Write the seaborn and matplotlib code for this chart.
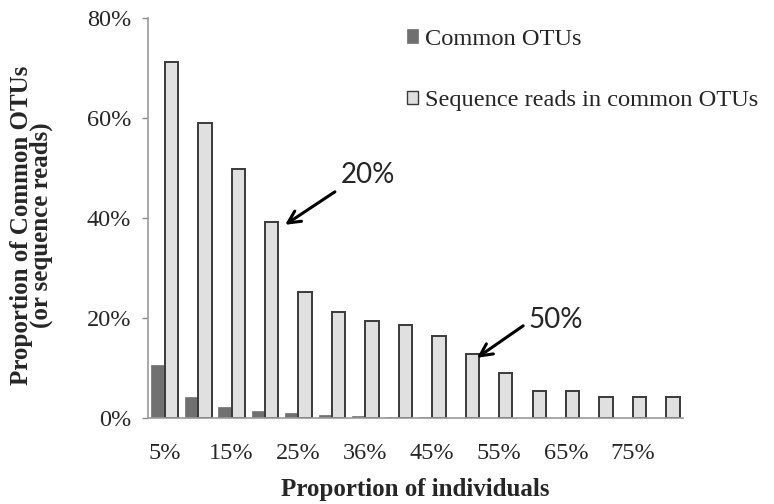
import matplotlib
matplotlib.use("Agg")
import matplotlib.pyplot as plt
import seaborn as sns
import pandas as pd
from matplotlib.patches import Patch
from matplotlib.ticker import FuncFormatter

categories = ["5%", "10%", "15%", "20%", "25%", "30%", "36%", "40%", "45%", "50%",
              "55%", "60%", "65%", "70%", "75%", "80%"]
common_otus = [10.7, 4.2, 2.3, 1.5, 1.0, 0.6, 0.4, 0.3, 0.2, 0.1, 0, 0, 0, 0, 0, 0]
seq_reads = [71.3, 59.0, 49.8, 39.3, 25.3, 21.3, 19.5, 18.7, 16.5, 12.8, 9.1, 5.5, 5.5, 4.3, 4.3, 4.3]
series_names = ["Common OTUs", "Sequence reads in common OTUs"]
shown_ticks = ["5%", "15%", "25%", "36%", "45%", "55%", "65%", "75%"]

df = pd.DataFrame({
    "cat": categories * 2,
    "val": common_otus + seq_reads,
    "series": [series_names[0]] * len(categories) + [series_names[1]] * len(categories),
})

sns.set_theme(style="white")
plt.rcParams["font.family"] = ["Liberation Serif", "DejaVu Serif"]

dark = "#707070"
light = "#e0e0e0"
fig = plt.figure(figsize=(7.74, 5.04), dpi=100)
ax = fig.add_axes([148 / 774, 85.7 / 504, 535 / 774, 400 / 504])

sns.barplot(data=df, x="cat", y="val", hue="series", order=categories,
            hue_order=series_names, palette=[dark, light], width=0.8,
            saturation=1, ax=ax, legend=False)
for p in ax.containers[0]:
    p.set_edgecolor(dark)
    p.set_linewidth(0.5)
for p in ax.containers[1]:
    p.set_edgecolor("#3a3a3a")
    p.set_linewidth(1.4)

ax.set_ylim(0, 80)
ax.set_xlim(-0.5, len(categories) - 0.5)
ax.set_yticks([0, 20, 40, 60, 80])
ax.yaxis.set_major_formatter(FuncFormatter(lambda v, _: f"{v:.0f}%"))
ax.set_xticks(range(len(categories)))
ax.set_xticklabels([c if c in shown_ticks else "" for c in categories])
ax.tick_params(axis="y", which="major", direction="out", length=4, width=1,
               color="#888888", labelsize=17.5, pad=8, left=True)
ax.tick_params(axis="x", length=0, labelsize=17.5, pad=18)
for s in ["top", "right"]:
    ax.spines[s].set_visible(False)
for s in ["left", "bottom"]:
    ax.spines[s].set_color("#999999")
    ax.spines[s].set_linewidth(1.2)

ax.set_xlabel("Proportion of individuals", fontsize=18, fontweight="bold")
ax.xaxis.set_label_coords(0.5, -0.15)
ax.set_ylabel("Proportion of Common OTUs\n(or sequence reads)", fontsize=18,
              fontweight="bold", linespacing=0.8)
ax.yaxis.set_label_coords(-0.1776, 0.483)

handles = [Patch(facecolor=dark, edgecolor=dark, linewidth=0.5),
           Patch(facecolor=light, edgecolor="#3a3a3a", linewidth=1.0)]
fig.legend(handles, series_names, loc="upper left", bbox_to_anchor=(397 / 774, 1 - 19 / 504),
           frameon=False, fontsize=17.6, handlelength=0.45, handleheight=0.45,
           handletextpad=0.3, labelspacing=1.66, borderaxespad=0)

arrow = dict(arrowstyle="->", lw=2.2, color="black", mutation_scale=22, shrinkA=0, shrinkB=0)
ax.annotate("", xy=(3.6, 38.7), xytext=(5.09, 45.3), arrowprops=arrow)
ax.text(5.25, 48.6, "20%", fontsize=20, family=["Lato", "DejaVu Sans"], va="center", ha="left")
ax.annotate("", xy=(9.34, 12.1), xytext=(10.72, 18.5), arrowprops=arrow)
ax.text(10.87, 19.7, "50%", fontsize=20, family=["Lato", "DejaVu Sans"], va="center", ha="left")

fig.savefig("out.png", dpi=100)
